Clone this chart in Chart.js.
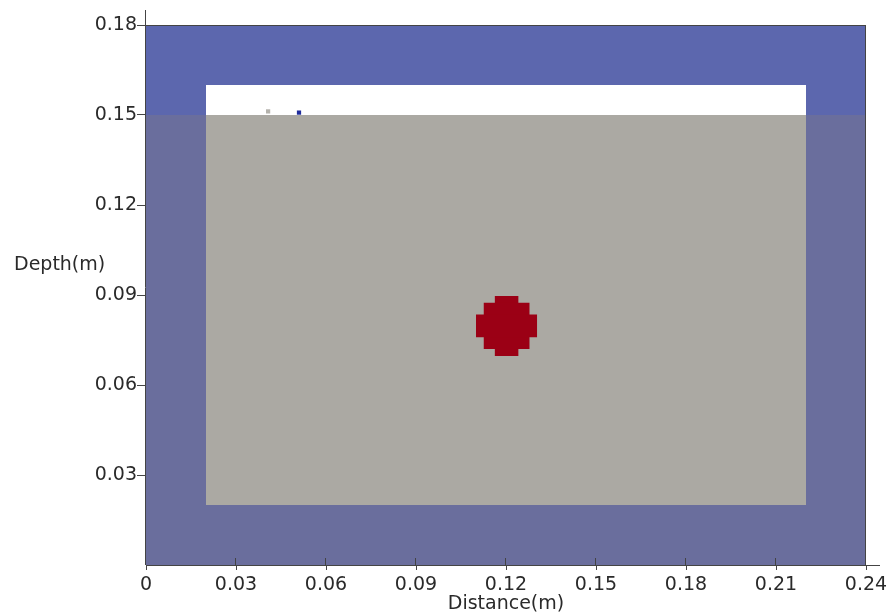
<!DOCTYPE html>
<html>
<head>
<meta charset="utf-8">
<script src="https://cdn.jsdelivr.net/npm/chart.js@4/dist/chart.umd.min.js"></script>
<style>
    html, body { margin: 0; padding: 0; background: #FFFFFF; }
    #wrap { width: 892px; height: 612px; }
</style>
</head>
<body>
<div id="wrap"><canvas id="domainChart" width="892" height="612"></canvas></div>
<script>
// =====================================================
// Model geometry (metres)
// =====================================================

const xTicks = [0, 0.03, 0.06, 0.09, 0.12, 0.15, 0.18, 0.21, 0.24];
const yTicks = [0.03, 0.06, 0.09, 0.12, 0.15, 0.18];

// outer domain, split at the soil surface
const domainX = [0, 0.24];
const airY = [0.15, 0.18];
const groundY = [0, 0.15];

// sand box and its fill
const boxX = [0.02, 0.22];
const boxY = [0.02, 0.16];
const sandY = [0.02, 0.15];

// buried target, voxelised disk (three stacked cell bands)
const targetCenter = [0.1202, 0.0797];
const targetHalfW = [0.0102, 0.0077, 0.0040];
const targetHalfH = [0.0038, 0.0077, 0.0100];

// transmitter / receiver positions
const antennaX = [0.0407, 0.0510];
const antennaY = [0.1512, 0.1508];
const antennaColors = ['#B4B2AC', '#1F2C9C'];

// =====================================================
// Helpers
// =====================================================

const FONT = '"DejaVu Sans", sans-serif';
const AXIS_COLOR = '#444444';
const TEXT_COLOR = '#2A2A2A';

// a rectangle is a flat top edge filled down to its bottom value
function rectDataset(xr, yr, color, order) {
    return {
        type: 'line',
        data: [{ x: xr[0], y: yr[1] }, { x: xr[1], y: yr[1] }],
        fill: { value: yr[0] },
        backgroundColor: color,
        borderWidth: 0,
        pointRadius: 0,
        order: order
    };
}

const datasets = [
    rectDataset(domainX, airY, '#5C67AE', 10),
    rectDataset(domainX, groundY, '#6A6E9D', 9),
    rectDataset(boxX, boxY, '#FFFFFF', 8),
    rectDataset(boxX, sandY, '#ABA9A3', 7)
];

targetHalfW.forEach((hw, i) => {
    const hh = targetHalfH[i];
    datasets.push(rectDataset(
        [targetCenter[0] - hw, targetCenter[0] + hw],
        [targetCenter[1] - hh, targetCenter[1] + hh],
        '#9B0015', 6
    ));
});

datasets.push({
    type: 'scatter',
    data: antennaX.map((x, i) => ({ x: x, y: antennaY[i] })),
    pointStyle: 'rect',
    pointRadius: 3,
    pointBackgroundColor: antennaColors,
    pointBorderWidth: 0,
    order: 1
});

// =====================================================
// Axis decorations: frame lines, inward x ticks, y title
// =====================================================

const frameLines = {
    id: 'frameLines',
    afterDatasetsDraw(chart) {
        const { ctx, chartArea, scales } = chart;
        const xs = scales.x, ys = scales.y;
        ctx.save();
        ctx.strokeStyle = AXIS_COLOR;
        ctx.lineWidth = 1;
        ctx.beginPath();
        // outer edges of the domain
        ctx.moveTo(xs.getPixelForValue(domainX[0]), ys.getPixelForValue(airY[1]) + 0.5);
        ctx.lineTo(xs.getPixelForValue(domainX[1]), ys.getPixelForValue(airY[1]) + 0.5);
        ctx.moveTo(xs.getPixelForValue(domainX[1]) - 0.5, ys.getPixelForValue(airY[1]));
        ctx.lineTo(xs.getPixelForValue(domainX[1]) - 0.5, chartArea.bottom);
        // axes run a little past the data
        ctx.moveTo(chartArea.left - 0.5, chartArea.top - 15);
        ctx.lineTo(chartArea.left - 0.5, chartArea.bottom);
        ctx.moveTo(chartArea.left, chartArea.bottom + 0.5);
        ctx.lineTo(chartArea.right + 14, chartArea.bottom + 0.5);
        // x ticks also point into the plot
        xTicks.forEach(v => {
            const px = Math.round(xs.getPixelForValue(v)) - 0.5;
            ctx.moveTo(px, chartArea.bottom - 7);
            ctx.lineTo(px, chartArea.bottom);
        });
        ctx.stroke();

        ctx.fillStyle = TEXT_COLOR;
        ctx.font = '19px ' + FONT;
        ctx.textAlign = 'left';
        ctx.textBaseline = 'middle';
        ctx.fillText('Depth(m)', 14, ys.getPixelForValue(0.1));
        ctx.restore();
    }
};

// =====================================================
// Chart
// =====================================================

new Chart(document.getElementById('domainChart'), {
    data: { datasets: datasets },
    options: {
        responsive: false,
        animation: false,
        events: [],
        layout: { padding: { top: 25, right: 26, left: 0, bottom: 0 } },
        plugins: {
            legend: { display: false },
            tooltip: { enabled: false }
        },
        scales: {
            x: {
                type: 'linear',
                min: 0,
                max: 0.24,
                afterBuildTicks: scale => { scale.ticks = xTicks.map(v => ({ value: v })); },
                afterFit: scale => { scale.height = 47; },
                border: { display: false },
                grid: { drawOnChartArea: false, tickLength: 5, tickColor: AXIS_COLOR },
                ticks: {
                    color: TEXT_COLOR,
                    padding: 4,
                    maxRotation: 0,
                    font: { family: FONT, size: 19 },
                    callback: v => String(v)
                },
                title: {
                    display: true,
                    text: 'Distance(m)',
                    color: TEXT_COLOR,
                    padding: { top: 0, bottom: -3 },
                    font: { family: FONT, size: 19 }
                }
            },
            y: {
                type: 'linear',
                min: 0,
                max: 0.18,
                afterBuildTicks: scale => { scale.ticks = yTicks.map(v => ({ value: v })); },
                afterFit: scale => { scale.width = 146; },
                border: { display: false },
                grid: { drawOnChartArea: false, tickLength: 9, tickColor: AXIS_COLOR },
                ticks: {
                    color: TEXT_COLOR,
                    padding: 0,
                    font: { family: FONT, size: 19 },
                    callback: v => String(v)
                }
            }
        }
    },
    plugins: [frameLines]
});
</script>
</body>
</html>
